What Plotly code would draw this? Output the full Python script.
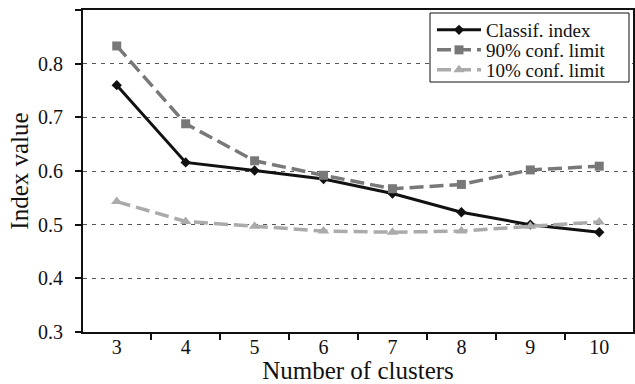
import plotly.graph_objects as go

clusters = ["3", "4", "5", "6", "7", "8", "9", "10"]
classif_index = [0.760, 0.616, 0.601, 0.585, 0.558, 0.523, 0.500, 0.486]
conf90 = [0.833, 0.688, 0.619, 0.592, 0.567, 0.575, 0.602, 0.609]
conf10 = [0.543, 0.506, 0.497, 0.488, 0.486, 0.488, 0.497, 0.505]
y_ticks = [0.3, 0.4, 0.5, 0.6, 0.7, 0.8, 0.9]

FONT = "Liberation Serif"
INK = "#111111"

fig = go.Figure()
fig.add_trace(go.Scatter(
    x=clusters, y=classif_index, name="Classif. index", mode="lines+markers",
    line=dict(color=INK, width=3),
    marker=dict(symbol="diamond", size=8, color=INK), legend="legend"))
fig.add_trace(go.Scatter(
    x=clusters, y=conf90, name="90% conf. limit", mode="lines+markers",
    line=dict(color="#787878", width=3.5, dash="14px,6px"),
    marker=dict(symbol="square", size=9, color="#787878"), legend="legend2"))
fig.add_trace(go.Scatter(
    x=clusters, y=conf10, name="10% conf. limit", mode="lines+markers",
    line=dict(color="#ababab", width=3.5, dash="14px,6px"),
    marker=dict(symbol="triangle-up", size=10, color="#ababab"), legend="legend3"))

# plot area in pixels: x 83..633, y 10..332
def px_x(v):
    return (v - 83) / 550

def px_y(v):
    return (332 - v) / 322

leg_common = dict(xanchor="left", yanchor="middle", borderwidth=0,
                  bgcolor="rgba(0,0,0,0)",
                  font=dict(family=FONT, size=19, color=INK), itemwidth=44)

fig.update_layout(
    width=635, height=384,
    margin=dict(l=83, r=2, t=10, b=52, autoexpand=False),
    paper_bgcolor="white", plot_bgcolor="white",
    font=dict(family=FONT, color=INK, size=20),
    showlegend=True,
    legend=dict(x=px_x(432), y=px_y(30), **leg_common),
    legend2=dict(x=px_x(432), y=px_y(50), **leg_common),
    legend3=dict(x=px_x(432), y=px_y(70), **leg_common),
    shapes=[dict(type="rect", xref="paper", yref="paper",
                 x0=px_x(430), x1=px_x(629), y0=px_y(82), y1=px_y(13),
                 line=dict(color=INK, width=1), fillcolor="white", layer="above")],
    xaxis=dict(
        type="category", tickson="boundaries", ticks="outside", ticklen=6,
        tickwidth=1.5, tickcolor=INK,
        showline=True, linecolor=INK, linewidth=2, mirror=True,
        showgrid=False, zeroline=False, ticklabelstandoff=-4,
        tickfont=dict(family=FONT, size=20, color=INK),
        title=dict(text="Number of clusters",
                   font=dict(family=FONT, size=25, color=INK), standoff=0)),
    yaxis=dict(
        range=[0.3, 0.9], tickvals=y_ticks, tickformat=".1f",
        ticks="outside", ticklen=6, tickwidth=1.5, tickcolor=INK,
        showline=True, linecolor=INK, linewidth=2, mirror=True,
        showgrid=True, gridcolor="#555555", gridwidth=1, griddash="4px,5px",
        zeroline=False, ticklabelstandoff=8,
        tickfont=dict(family=FONT, size=20, color=INK),
        title=dict(text="Index value",
                   font=dict(family=FONT, size=25, color=INK), standoff=2)),
)

fig.write_html("out.html", config={"displayModeBar": False},
               post_script="document.body.style.margin='0';")
